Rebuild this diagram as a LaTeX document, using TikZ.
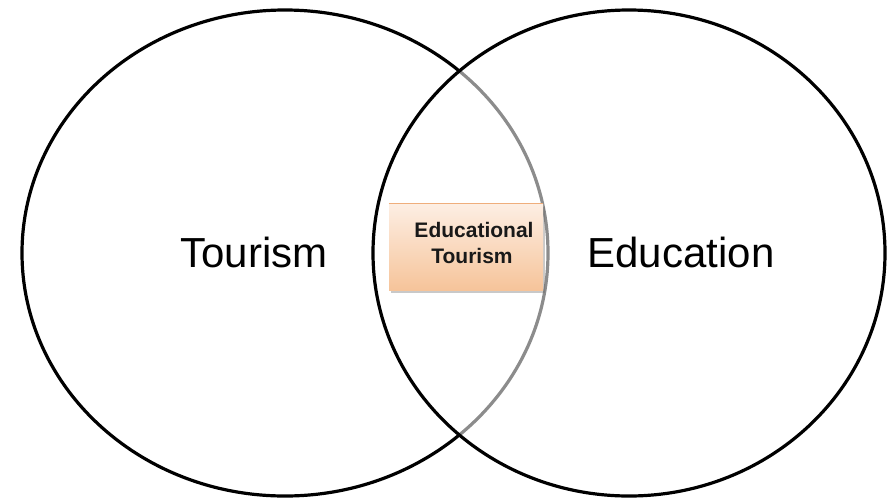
\documentclass[tikz,border=0pt]{standalone}
\usepackage{fontspec}
\setmainfont{Liberation Sans}
\usetikzlibrary{shadows}
\definecolor{boxtop}{HTML}{FDEEE3}
\definecolor{boxbot}{HTML}{F6C49A}
\definecolor{boxline}{HTML}{EFAE7C}
\tikzset{
  venn/.style={line width=3.2pt, draw=black},
  biglabel/.style={font=\fontsize{42}{48}\selectfont, text=black, inner sep=0pt},
  midbox/.style={minimum width=154pt, minimum height=86pt, top color=boxtop, bottom color=boxbot,
     draw=none, drop shadow={shadow xshift=1.5pt, shadow yshift=-3pt, opacity=0.35, fill=black!60},
     inner sep=0pt},
  boxtext/.style={font=\fontsize{21}{26}\selectfont\bfseries, text=black!90, anchor=base, inner sep=0pt}
}
\begin{document}
\begin{tikzpicture}[x=1pt,y=-1pt]
\useasboundingbox (0,0) rectangle (888,499);
\fill[white] (0,0) rectangle (888,499);
% left ellipse
\draw[venn] (285,253) ellipse [x radius=263, y radius=243];
% right ellipse, semi-transparent fill greys the inner arc
\fill[white, opacity=0.55] (629,253) ellipse [x radius=256, y radius=243];
\draw[venn] (629,253) ellipse [x radius=256, y radius=243];
% labels
\node[biglabel, anchor=base] (tour) at (254,267) {Tourism};
\node[biglabel, anchor=base] (educ) at (681,267) {Education};
% middle box
\node[midbox] (mid) at (466,247) {};
\draw[boxline, line width=1.2pt] (mid.north west) -- (mid.north east);
\node[boxtext] (l1) at (474,237) {Educational};
\node[boxtext] (l2) at (472,263) {Tourism};
\end{tikzpicture}
\end{document}
